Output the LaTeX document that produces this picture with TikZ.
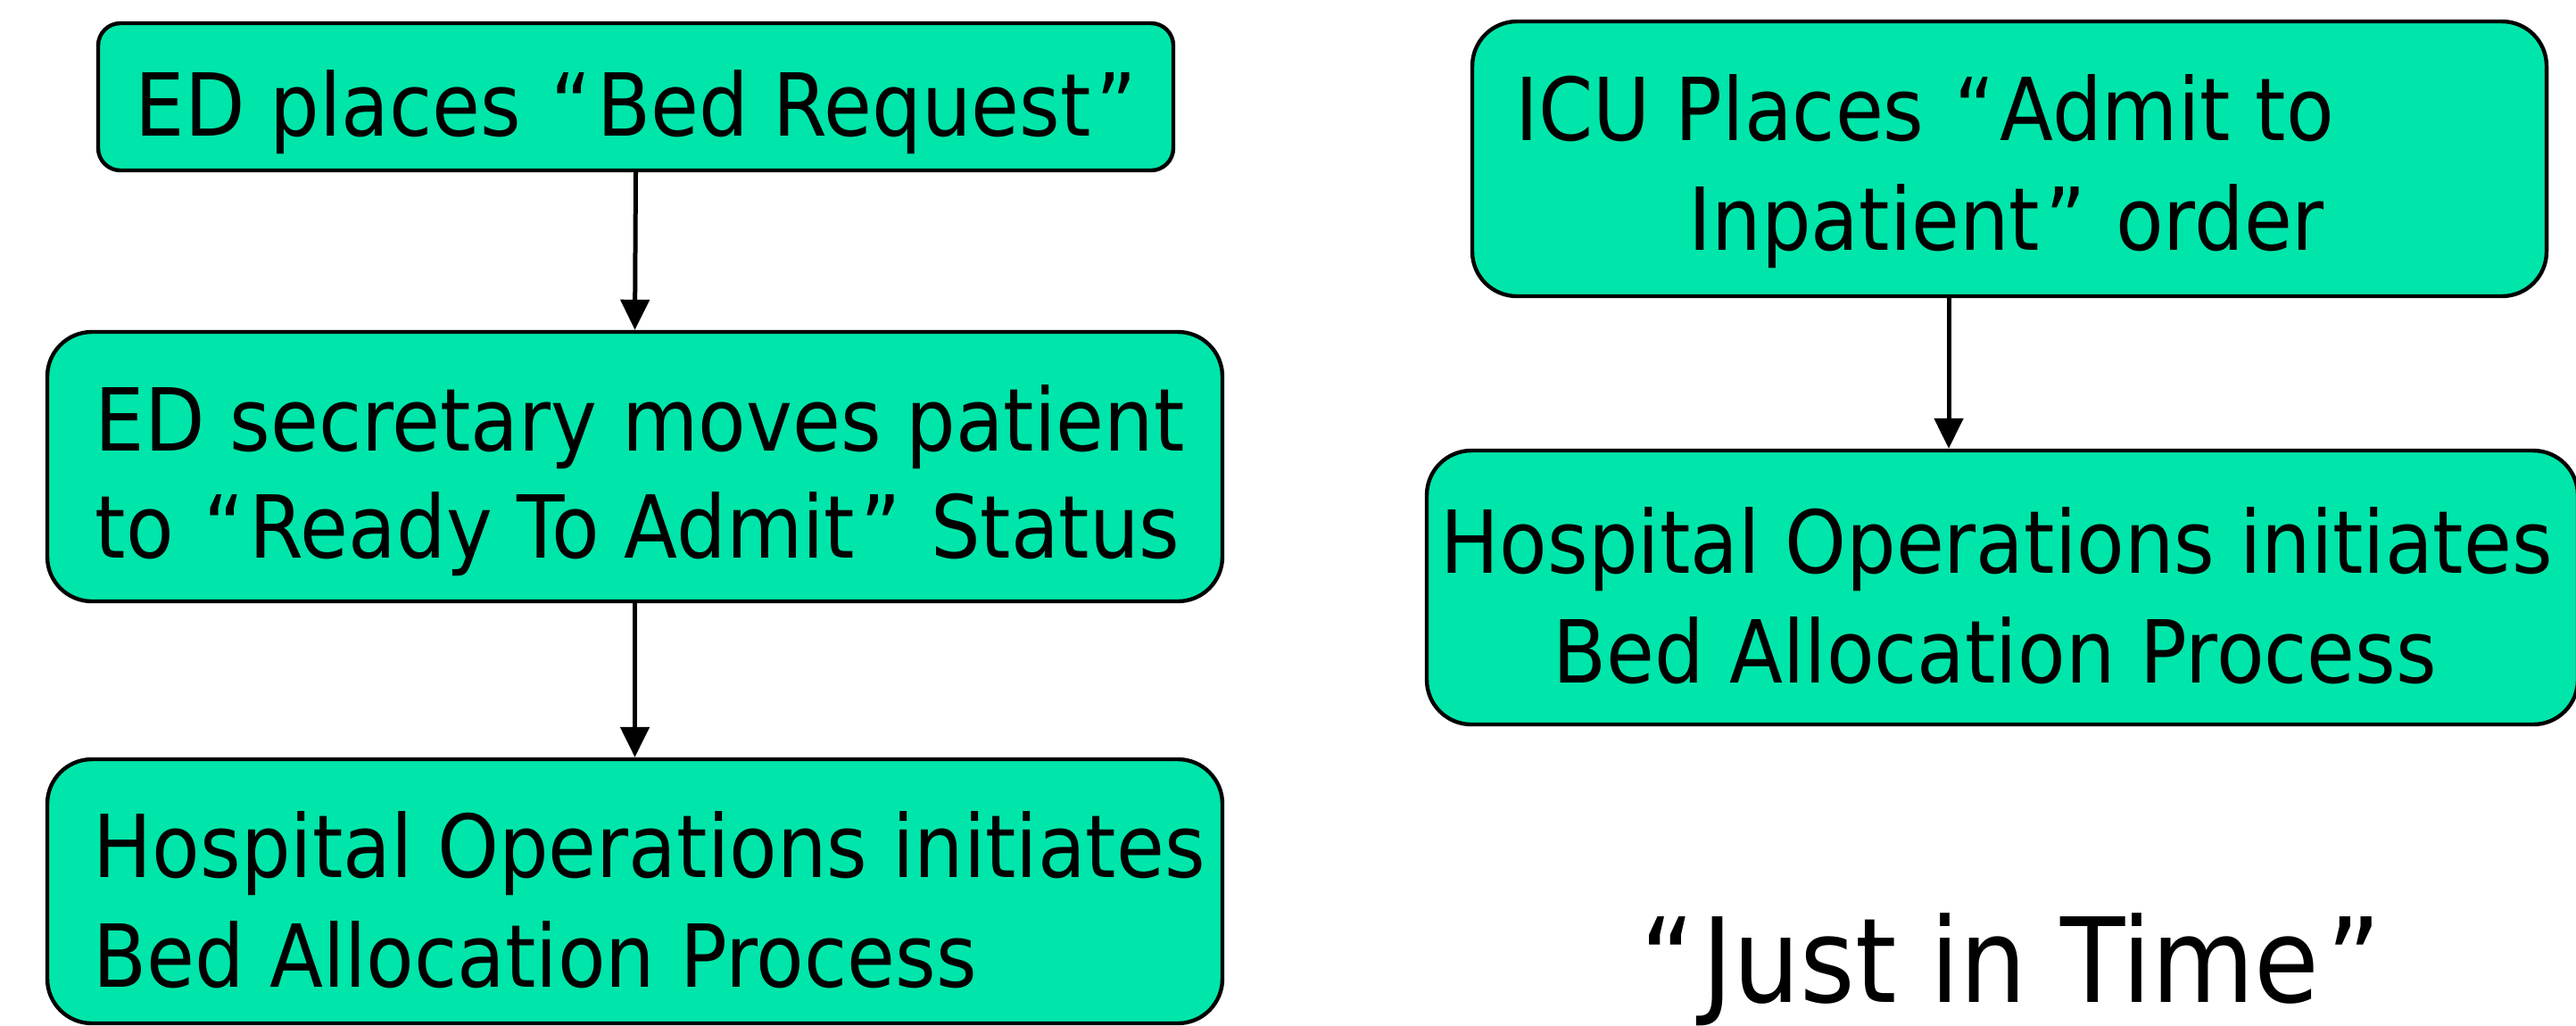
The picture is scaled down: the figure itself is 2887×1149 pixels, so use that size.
\documentclass[tikz,border=0pt]{standalone}
\usepackage{fontspec}
\setmainfont{DejaVu Sans}[FakeStretch=0.9]
\usetikzlibrary{arrows.meta}
\definecolor{boxgreen}{RGB}{0,229,170}
% quotation marks with a little extra room on each side
\newcommand{\openq}{\kern0.06em“\kern0.06em}
\newcommand{\closeq}{\kern0.06em”\kern0.06em}
\begin{document}
\begin{tikzpicture}[x=0.25pt,y=-0.25pt,
  flowbox/.style={draw=black,line width=1.1pt,fill=boxgreen,rectangle,inner sep=0pt},
  boxtext/.style={anchor=base west,inner sep=0pt,font=\fontsize{24.35pt}{30pt}\selectfont},
  bigtext/.style={anchor=base west,inner sep=0pt,font=\fontsize{32.9pt}{40pt}\selectfont},
  flowarrow/.style={line width=1.25pt,-{Triangle[width=8pt,length=8.5pt]}}]
\useasboundingbox (0,0) rectangle (2887,1149);

% left column: emergency department path
\node[flowbox,rounded corners=6.25pt,minimum width=301.25pt,minimum height=41.25pt] (b1) at (712.5,108.5) {};
\node[flowbox,rounded corners=12.5pt,minimum width=329.25pt,minimum height=75.5pt] (b2) at (711.5,523) {};
\node[flowbox,rounded corners=12.5pt,minimum width=329.25pt,minimum height=74pt] (b3) at (711.5,999) {};

\node[boxtext] (t1) at (151,152) {ED places \openq Bed Request\closeq};
\node[boxtext] (t2a) at (106,505) {ED secretary moves patient};
\node[boxtext] (t2b) at (106,625) {to \openq Ready To Admit\closeq\ Status};
\node[boxtext] (t3a) at (104,983) {Hospital Operations initiates};
\node[boxtext] (t3b) at (104,1106) {Bed Allocation Process};

\draw[flowarrow] (b1.south) -- (b2.north);
\draw[flowarrow] (b2.south) -- (b3.north);

% right column: ICU path
\node[flowbox,rounded corners=12.5pt,minimum width=301pt,minimum height=77pt] (b4) at (2252,178) {};
\node[flowbox,rounded corners=12.5pt,minimum width=322.5pt,minimum height=76.75pt] (b5) at (2244,658.5) {};

\node[boxtext] (t4a) at (1698,157) {ICU Places \openq Admit to};
\node[boxtext] (t4b) at (1892,280) {Inpatient\closeq\ order};
\node[boxtext] (t5a) at (1614,642) {Hospital Operations initiates};
\node[boxtext] (t5b) at (1740,765) {Bed Allocation Process};

\coordinate (ax) at (2184,0);
\draw[flowarrow] (b4.south -| ax) -- (b5.north -| ax);

\node[bigtext] (jit) at (1830,1123) {\openq Just in Time\closeq};
\end{tikzpicture}
\end{document}
